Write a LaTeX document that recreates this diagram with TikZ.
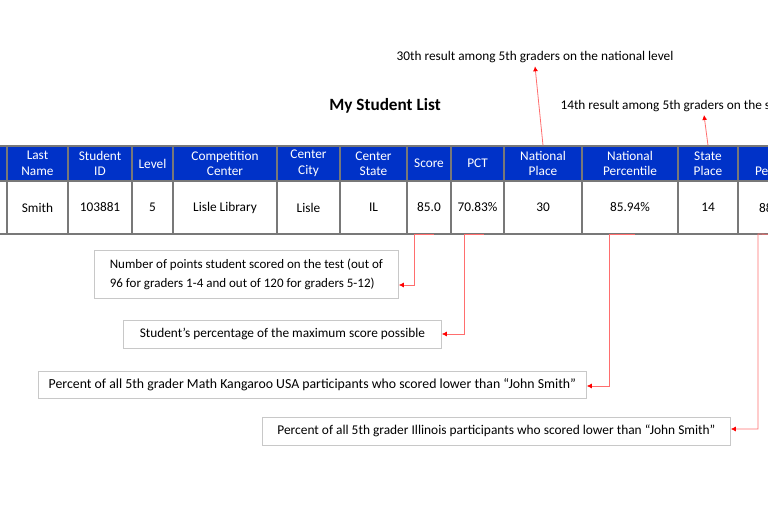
\documentclass[tikz,border=0pt]{standalone}
\usepackage{fontspec}
\setmainfont{Carlito}
\usetikzlibrary{arrows.meta}

\definecolor{hblue}{RGB}{0,50,200}
\definecolor{tgray}{RGB}{120,120,120}
\definecolor{boxgray}{RGB}{200,200,200}
\definecolor{lred}{RGB}{255,110,110}

\tikzset{
  headcell/.style={fill=hblue, text=white, draw=tgray, line width=1.2pt, inner sep=0pt,
    minimum height=35pt, align=center, font=\fontsize{13.3}{15.5}\selectfont},
  bodycell/.style={fill=white, draw=tgray, line width=1.2pt, inner sep=0pt,
    minimum height=53pt, font=\fontsize{13.3}{15.5}\selectfont},
  callout/.style={draw=boxgray, line width=0.8pt, anchor=west, align=left,
    inner xsep=6pt, inner ysep=0pt},
  note/.style={font=\fontsize{13.3}{16}\selectfont},
  conn/.style={lred, line width=0.8pt, -{Latex[length=5pt,width=5pt,red]}}
}

\begin{document}
\begin{tikzpicture}[x=1pt,y=-1pt]

\useasboundingbox (0,0) rectangle (768,510);
\clip (0,0) rectangle (768,510);

% table
\foreach \n/\xa/\xb/\head/\val in {
  1/-60/7/{}/{},
  2/7/68/{Last\\Name}/Smith,
  3/68/132/{Student\\ID}/103881,
  4/132/173/Level/5,
  5/173/277/{Competition\\Center}/Lisle Library,
  6/277/340/{Center\\City}/Lisle,
  7/340/407/{Center\\State}/IL,
  8/407/451/Score/85.0,
  9/451/504/PCT/70.83\%,
  10/504/582/{National\\Place}/30,
  11/582/678/{National\\Percentile}/85.94\%,
  12/678/738/{State\\Place}/14,
  13/738/826/{State\\Percentile}/{}}
{
  \node[headcell, minimum width={(\xb-\xa)*1pt}] (h\n) at ({(\xa+\xb)/2},163.5) {\head};
  \node[bodycell, minimum width={(\xb-\xa)*1pt}] (b\n) at ({(\xa+\xb)/2},207.5) {\val};
}
\node[font=\fontsize{13.3}{15.5}\selectfont, anchor=west, inner sep=0pt] (b13val) at (759,208) {88};

% titles and notes
\node[font=\bfseries\fontsize{17.2}{20}\selectfont] (title) at (385,106) {My Student List};
\node[note] (natnote) at (535,57) {30th result among 5th graders on the national level};
\node[note, anchor=west] (statenote) at (557,106) {14th result among 5th graders on the state level};
\coordinate (statetip) at (704,115);

% callouts
\node[callout, minimum width=304pt, minimum height=48pt, font=\fontsize{13}{19}\selectfont] (box1) at (94,274)
  {Number of points student scored on the test (out of\\96 for graders 1-4 and out of 120 for graders 5-12)};
\node[callout, minimum width=318pt, minimum height=28pt, font=\fontsize{13.3}{16}\selectfont] (box2) at (123,334)
  {Student’s percentage of the maximum score possible};
\node[callout, minimum width=548pt, minimum height=27pt, font=\fontsize{13.8}{16}\selectfont] (box3) at (38,384.5)
  {Percent of all 5th grader Math Kangaroo USA participants who scored lower than “John Smith”};
\node[callout, minimum width=468pt, minimum height=28pt, font=\fontsize{13.4}{16}\selectfont] (box4) at (262,431)
  {Percent of all 5th grader Illinois participants who scored lower than “John Smith”};

% connectors
\draw[conn] (h10.north) -- (natnote.south);
\draw[conn] (h12.north) -- (statetip);
\draw[conn] ([xshift=5pt]b8.south) -- ++(-20,0) |- ([yshift=-11pt]box1.east);
\draw[conn] ([xshift=6pt]b9.south) -- ++(-19,0) |- (box2.east);
\draw[conn] ([xshift=5pt]b11.south) -- ++(-26,0) |- ([yshift=-1.5pt]box3.east);
\draw[conn] (b13.south) -- (758,234) |- ([yshift=2pt]box4.east);

\end{tikzpicture}
\end{document}
